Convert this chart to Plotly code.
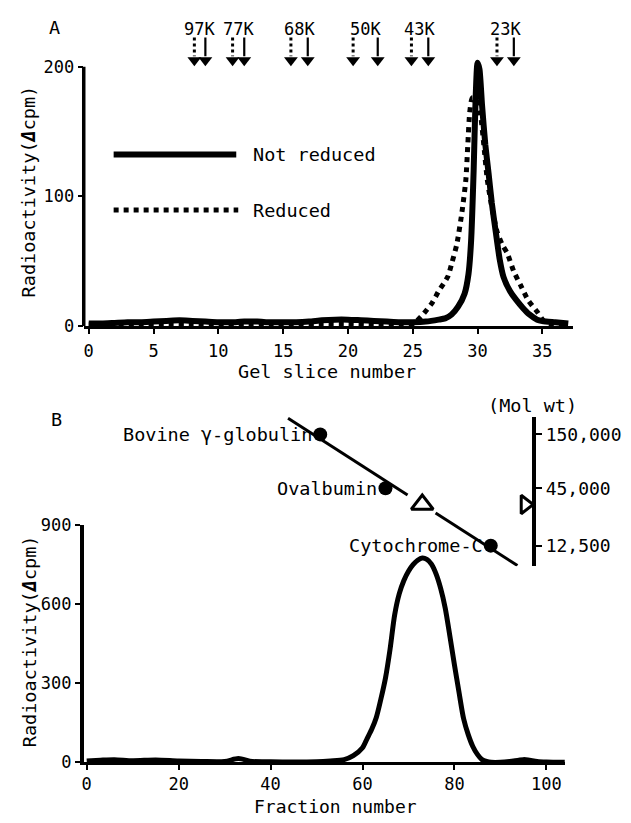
import numpy as np
import plotly.graph_objects as go

W, H = 631, 823
FONT = "DejaVu Sans Mono"

# ---------------- Panel A: SDS gel slices ----------------
gel_x_ticks = [0, 5, 10, 15, 20, 25, 30, 35]
gel_y_ticks = [0, 100, 200]

not_reduced_slice = [0, 1, 2, 3, 4, 5, 6, 7, 8, 9, 10, 11, 12, 13, 14, 15, 16, 17, 18, 19,
                     20, 21, 22, 23, 24, 25, 26, 27, 27.5, 28, 28.5, 29, 29.3, 29.5, 29.7,
                     29.85, 30.0, 30.15, 30.35, 30.6, 30.85, 31.1, 31.4, 31.7, 32.0, 32.5,
                     33.0, 33.5, 34.0, 34.6, 35.0, 36.0, 37.0]
not_reduced_cpm = [2, 2, 2.5, 3, 3, 3.5, 4, 4.5, 4, 3.5, 3, 3, 3.5, 3.5, 3, 3, 3, 3.5, 4.5, 5,
                   5, 4.5, 4, 3.5, 3, 3, 3.5, 5, 6, 9, 15, 25, 40, 65, 120,
                   175, 203, 198, 170, 140, 118, 95, 73, 52, 38, 27,
                   20, 14, 9, 5, 4, 3, 2]

reduced_slice = [0, 2, 4, 6, 8, 10, 12, 14, 16, 18, 20, 22, 24, 25.0, 25.7, 26.5, 27.0, 27.7,
                 28.0, 28.4, 28.8, 29.1, 29.25, 29.4, 29.6, 29.9, 30.2, 30.5, 30.75, 31.1,
                 31.5, 31.9, 32.3, 32.8, 33.3, 33.9, 34.6, 35.1, 35.6, 36.5, 37.0]
reduced_cpm = [1, 1, 1.5, 1.5, 1.5, 1, 1, 1.5, 1.5, 1.5, 1.5, 1, 1, 1.5, 8, 18, 27, 38,
               48, 63, 88, 113, 140, 165, 176, 174, 165, 138, 113, 92,
               73, 63, 56, 42, 32, 20, 11, 4, 2, 1.5, 1.5]

# Molecular weight markers: label, slice position when reduced / not reduced
marker_labels = ["97K", "77K", "68K", "50K", "43K", "23K"]
marker_reduced = [8.15, 11.1, 15.6, 20.4, 24.9, 31.5]
marker_not_reduced = [9.0, 12.0, 16.9, 22.3, 26.2, 32.8]

# ---------------- Panel B: gel filtration ----------------
frac_x_ticks = [0, 20, 40, 60, 80, 100]
frac_y_ticks = [0, 300, 600, 900]

fraction = [0, 3, 6, 10, 15, 20, 25, 30, 33, 36, 40, 45, 50, 53, 56, 58, 60, 61, 62, 63,
            64, 65, 66, 67, 68, 69, 70, 71, 72, 73, 74, 75, 76, 77, 78, 79, 80, 81, 82,
            83, 84, 85, 86, 87, 88, 90, 92, 94, 95, 96, 98, 100, 104]
fraction_cpm = [5, 8, 10, 6, 9, 5, 3, 3, 14, 3, 2, 1, 2, 5, 10, 25, 55, 90, 125, 170,
                240, 320, 430, 560, 640, 690, 725, 750, 767, 775, 770, 752, 715, 660, 585,
                480, 370, 265, 165, 105, 60, 30, 10, 3, 0, 0, 3, 8, 10, 9, 3, 1, 0]

# Calibration standards (elution fraction vs molecular weight)
standard_names = ["Bovine γ-globulin", "Ovalbumin", "Cytochrome-C"]
standard_fraction = [50.8, 65.0, 87.9]
standard_mw = [150000, 45000, 12500]
mw_tick_vals = [12500, 45000, 150000]
mw_tick_text = ["12,500", "45,000", "150,000"]
sample_fraction = 73.0

# log-linear calibration line
slope, intercept = np.polyfit(standard_fraction, np.log10(standard_mw), 1)
calib = lambda f: 10 ** (slope * np.asarray(f, dtype=float) + intercept)
sample_mw = float(calib(sample_fraction))
line_start, line_end = 43.8, 93.7
gap_lo, gap_hi = sample_fraction - 3.2, sample_fraction + 2.9
calib_x = [line_start, gap_lo, None, gap_hi, line_end]
calib_y = [calib(line_start), calib(gap_lo), None, calib(gap_hi), calib(line_end)]
mw_axis_fraction = 97.4


def fx(p):
    return p / W


def fy(p):
    return 1 - p / H


fig = go.Figure()

# Panel A curves
fig.add_trace(go.Scatter(x=not_reduced_slice, y=not_reduced_cpm, mode="lines",
                         line=dict(color="black", width=6, shape="spline", smoothing=0.6),
                         xaxis="x", yaxis="y", showlegend=False))
fig.add_trace(go.Scatter(x=reduced_slice, y=reduced_cpm, mode="lines",
                         line=dict(color="black", width=5, dash="5px,5px", shape="spline",
                                   smoothing=0.6),
                         xaxis="x", yaxis="y", showlegend=False))

# Marker arrows above panel A
shaft_top, shaft_bot, head_y = 222.5, 208, 205
for xs, dash, w in [(marker_reduced, "3px,3px", 3), (marker_not_reduced, "solid", 2.2)]:
    sx, sy = [], []
    for v in xs:
        sx += [v, v, None]
        sy += [shaft_top, shaft_bot, None]
    fig.add_trace(go.Scatter(x=sx, y=sy, mode="lines", line=dict(color="black", width=w, dash=dash),
                             xaxis="x", yaxis="y", showlegend=False, hoverinfo="skip"))
    fig.add_trace(go.Scatter(x=xs, y=[head_y] * len(xs), mode="markers",
                             marker=dict(symbol="triangle-down", size=12, color="black"),
                             cliponaxis=False, xaxis="x", yaxis="y", showlegend=False))

# Panel B curve
fig.add_trace(go.Scatter(x=fraction, y=fraction_cpm, mode="lines",
                         line=dict(color="black", width=5, shape="spline", smoothing=0.8),
                         xaxis="x2", yaxis="y2", showlegend=False))

# Calibration inset
fig.add_trace(go.Scatter(x=calib_x, y=calib_y, mode="lines", line=dict(color="black", width=3),
                         xaxis="x2", yaxis="y3", showlegend=False))
fig.add_trace(go.Scatter(x=standard_fraction, y=standard_mw, mode="markers",
                         marker=dict(symbol="circle", size=14, color="black"),
                         cliponaxis=False, xaxis="x2", yaxis="y3", showlegend=False))
fig.add_trace(go.Scatter(x=[sample_fraction], y=[sample_mw], mode="markers",
                         marker=dict(symbol="triangle-up-open", size=19, color="black",
                                     line=dict(width=3, color="black")),
                         cliponaxis=False, xaxis="x2", yaxis="y3", showlegend=False))
fig.add_trace(go.Scatter(x=[mw_axis_fraction - 2.0], y=[sample_mw], mode="markers",
                         marker=dict(symbol="triangle-right-open", size=16, color="black",
                                     line=dict(width=3, color="black")),
                         cliponaxis=False, xaxis="x2", yaxis="y3", showlegend=False))

tickfont = dict(family=FONT, size=17, color="black")
common = dict(showgrid=False, zeroline=False, ticks="outside", tickcolor="black",
              tickwidth=2, ticklen=5, tickfont=tickfont)

fig.update_layout(
    width=W, height=H,
    margin=dict(l=0, r=0, t=0, b=0),
    paper_bgcolor="white", plot_bgcolor="rgba(0,0,0,0)",
    xaxis=dict(domain=[fx(82), fx(573)], range=[-0.385, 37.38], anchor="y",
               tickvals=gel_x_ticks, showline=True, linecolor="black", linewidth=2.5,
               ticklabelstandoff=3, **common),
    yaxis=dict(domain=[fy(324), fy(24)], range=[0, 225.6], anchor="x",
               tickvals=gel_y_ticks, showline=False, **common),
    xaxis2=dict(domain=[fx(82), fx(565)], range=[-0.65, 104.1], anchor="y2",
                tickvals=frac_x_ticks, showline=True, linecolor="black", linewidth=2.5,
                ticklabelstandoff=0, **common),
    yaxis2=dict(domain=[fy(771), fy(528)], range=[0, 900], anchor="x2",
                tickvals=frac_y_ticks, showline=True, linecolor="black", linewidth=3.5,
                **common),
    yaxis3=dict(type="log", domain=[fy(570), fy(417)], range=[3.898, 5.346],
                anchor="free", position=fx(534), side="right",
                tickvals=mw_tick_vals, ticktext=mw_tick_text,
                showline=True, linecolor="black", linewidth=3.5,
                showgrid=False, zeroline=False, ticks="outside", tickcolor="black",
                tickwidth=2, ticklen=6, tickfont=dict(family=FONT, size=18, color="black")),
)

# Panel A y-axis line stops at 200
fig.add_shape(type="line", xref="x domain", yref="y", x0=0, x1=0, y0=0, y1=200,
              line=dict(color="black", width=3.5))

# Legend samples in panel A
fig.add_shape(type="line", xref="paper", yref="paper", x0=fx(112), x1=fx(235),
              y0=fy(148), y1=fy(148), line=dict(color="black", width=6))
fig.add_shape(type="line", xref="paper", yref="paper", x0=fx(112), x1=fx(237),
              y0=fy(205), y1=fy(205), line=dict(color="black", width=5, dash="5px,5px"))

txt = dict(family=FONT, size=18.5, color="black")


def note(x, y, text, **kw):
    base = dict(xref="paper", yref="paper", x=fx(x), y=fy(y), text=text, showarrow=False,
                font=txt, xanchor="center", yanchor="middle")
    base.update(kw)
    fig.add_annotation(**base)


note(250, 148, "Not reduced", xanchor="left")
note(250, 205, "Reduced", xanchor="left")
note(53, 18, "A")
note(55, 420, "B")
note(27, 186, "Radioactivity(<b><i>Δ</i></b>cpm)", textangle=-90)
note(27, 647, "Radioactivity(<b><i>Δ</i></b>cpm)", textangle=-90)
note(326, 371, "Gel slice number")
note(335, 828, "Fraction number", yanchor="bottom", borderpad=0,
     font=dict(family=FONT, size=18, color="black"))
note(532, 405, "(Mol wt)")

# Marker labels above arrow pairs
for lab, a, b in zip(marker_labels, marker_reduced, marker_not_reduced):
    fig.add_annotation(xref="x", yref="paper", x=(a + b) / 2, y=fy(19), text=lab,
                       showarrow=False, font=dict(family=FONT, size=17, color="black"),
                       xanchor="center", yanchor="middle")

# Standard protein labels
for name, f, mw in zip(standard_names, standard_fraction, standard_mw):
    fig.add_annotation(xref="x2", yref="y3", x=f, y=np.log10(mw), text=name, showarrow=False,
                       font=txt, xanchor="right", yanchor="middle", xshift=-6)

fig.write_html("out.html")
